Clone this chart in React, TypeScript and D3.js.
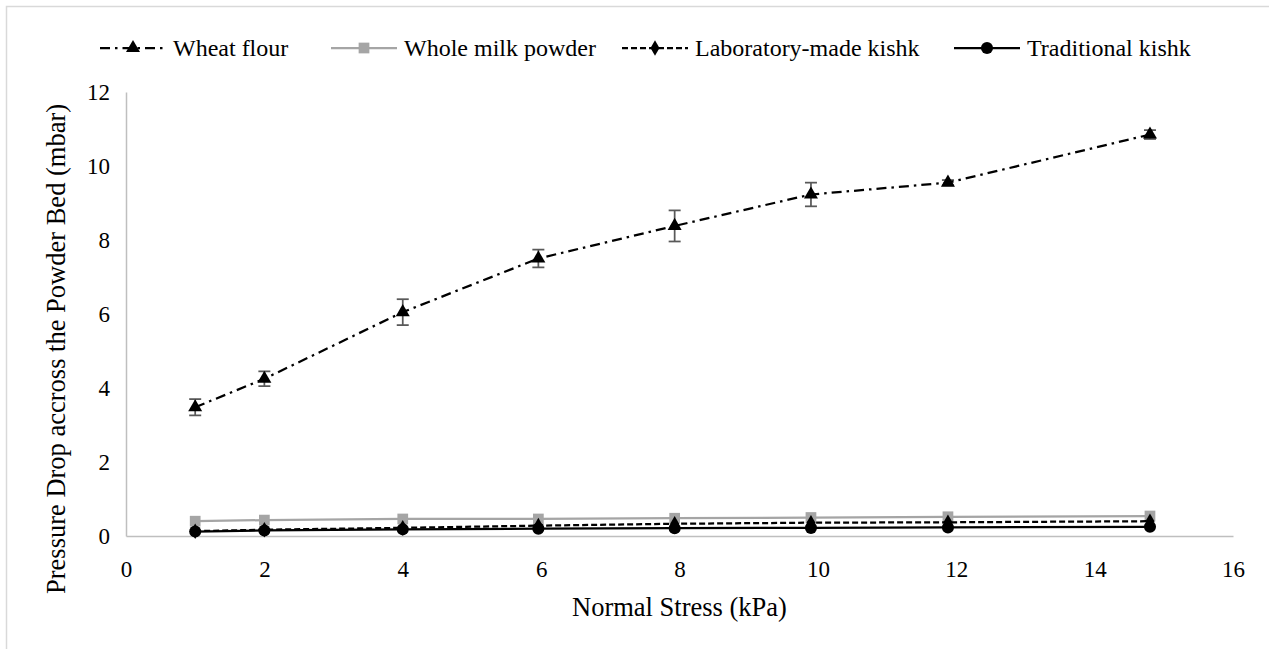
import { useEffect, useRef } from 'react';
import * as d3 from 'd3';

// Normal stress (kPa) at which each measurement was taken
const stress = [1, 2, 4, 5.96, 7.93, 9.9, 11.88, 14.8];

// Pressure drop across the powder bed (mbar)
const wheatFlour = [3.48, 4.25, 6.05, 7.5, 8.38, 9.23, 9.55, 10.85];
const wheatFlourErr = [0.22, 0.2, 0.35, 0.24, 0.42, 0.32, 0.07, 0.12];
const wholeMilkPowder = [0.4, 0.43, 0.46, 0.46, 0.48, 0.5, 0.52, 0.54];
const labKishk = [0.13, 0.17, 0.22, 0.28, 0.33, 0.36, 0.37, 0.4];
const tradKishk = [0.12, 0.15, 0.18, 0.2, 0.21, 0.22, 0.23, 0.25];

const xTicks = [0, 2, 4, 6, 8, 10, 12, 14, 16];
const yTicks = [0, 2, 4, 6, 8, 10, 12];

const seriesNames = ['Wheat flour', 'Whole milk powder', 'Laboratory-made kishk', 'Traditional kishk'];

const WIDTH = 1269;
const HEIGHT = 649;
const FONT = "'Liberation Serif', 'DejaVu Serif', serif";

type Marker = 'triangle' | 'square' | 'diamond' | 'circle';

interface Series {
  name: string;
  values: number[];
  color: string;
  dash: string | null;
  marker: Marker;
}

const App = () => {
  const svgRef = useRef<SVGSVGElement>(null);

  useEffect(() => {
    const svg = d3.select(svgRef.current);
    svg.selectAll('*').remove();

    const margin = { top: 92, right: 36, bottom: 113, left: 126 };
    const x = d3.scaleLinear().domain([0, 16]).range([margin.left, WIDTH - margin.right]);
    const y = d3.scaleLinear().domain([0, 12]).range([HEIGHT - margin.bottom, margin.top]);

    const series: Series[] = [
      { name: seriesNames[0], values: wheatFlour, color: '#000000', dash: '10,5,2.5,5', marker: 'triangle' },
      { name: seriesNames[1], values: wholeMilkPowder, color: '#a5a5a5', dash: null, marker: 'square' },
      { name: seriesNames[2], values: labKishk, color: '#000000', dash: '6,3', marker: 'diamond' },
      { name: seriesNames[3], values: tradKishk, color: '#000000', dash: null, marker: 'circle' },
    ];

    const symbolFor = (m: Marker) => {
      if (m === 'triangle') return d3.symbol(d3.symbolTriangle, 85)();
      if (m === 'square') return d3.symbol(d3.symbolSquare, 115)();
      if (m === 'diamond') return d3.symbol(d3.symbolDiamond, 70)();
      return d3.symbol(d3.symbolCircle, 115)();
    };

    // Outer chart border
    svg.append('rect')
      .attr('x', 6.5)
      .attr('y', 6.5)
      .attr('width', WIDTH + 20)
      .attr('height', HEIGHT + 20)
      .attr('fill', 'none')
      .attr('stroke', '#d9d9d9')
      .attr('stroke-width', 1.5);

    // Axes (light gray lines, no tick marks)
    const xAxis = svg.append('g')
      .attr('transform', `translate(0,${y(0)})`)
      .call(d3.axisBottom(x).tickValues(xTicks).tickSize(0).tickPadding(25));
    xAxis.select('.domain').attr('stroke', '#bfbfbf').attr('stroke-width', 1.5);
    xAxis.selectAll('text').style('font-family', FONT).attr('font-size', 23).attr('fill', '#000');

    const yAxis = svg.append('g')
      .attr('transform', `translate(${x(0)},0)`)
      .call(d3.axisLeft(y).tickValues(yTicks).tickSize(0).tickPadding(16));
    yAxis.select('.domain').attr('stroke', '#bfbfbf').attr('stroke-width', 1.5);
    yAxis.selectAll('text').style('font-family', FONT).attr('font-size', 23).attr('fill', '#000');

    // Axis titles
    svg.append('text')
      .attr('x', (x(0) + x(16)) / 2)
      .attr('y', 616)
      .attr('text-anchor', 'middle')
      .style('font-family', FONT)
      .attr('font-size', 26.5)
      .text('Normal Stress (kPa)');

    svg.append('text')
      .attr('transform', 'translate(65,594) rotate(-90)')
      .attr('text-anchor', 'start')
      .style('font-family', FONT)
      .attr('font-size', 26.5)
      .text('Pressure Drop accross the Powder Bed (mbar)');

    const line = d3.line<number>()
      .x((_, i) => x(stress[i]))
      .y(d => y(d));

    // Error bars for wheat flour
    const errG = svg.append('g');
    wheatFlour.forEach((v, i) => {
      const cx = x(stress[i]);
      const lo = y(v - wheatFlourErr[i]);
      const hi = y(v + wheatFlourErr[i]);
      errG.append('line').attr('x1', cx).attr('x2', cx).attr('y1', lo).attr('y2', hi)
        .attr('stroke', '#595959').attr('stroke-width', 1.75);
      [lo, hi].forEach(yy => {
        errG.append('line').attr('x1', cx - 6).attr('x2', cx + 6).attr('y1', yy).attr('y2', yy)
          .attr('stroke', '#595959').attr('stroke-width', 1.75);
      });
    });

    series.forEach(s => {
      svg.append('path')
        .datum(s.values)
        .attr('d', line)
        .attr('fill', 'none')
        .attr('stroke', s.color)
        .attr('stroke-width', 2.25)
        .attr('stroke-dasharray', s.dash);

      svg.append('g')
        .selectAll('path')
        .data(s.values)
        .enter()
        .append('path')
        .attr('d', symbolFor(s.marker))
        .attr('transform', (d, i) => `translate(${x(stress[i])},${y(d)})`)
        .attr('fill', s.color);
    });

    // Legend
    const legendX = [100, 331, 622, 954];
    const legendY = 48;
    series.forEach((s, i) => {
      const g = svg.append('g').attr('transform', `translate(${legendX[i]},${legendY})`);
      g.append('line')
        .attr('x1', 0).attr('x2', 66).attr('y1', 0).attr('y2', 0)
        .attr('stroke', s.color)
        .attr('stroke-width', 2.25)
        .attr('stroke-dasharray', s.dash);
      g.append('path')
        .attr('d', symbolFor(s.marker))
        .attr('transform', 'translate(33,0)')
        .attr('fill', s.color);
      g.append('text')
        .attr('x', 73)
        .attr('dy', '0.33em')
        .style('font-family', FONT)
        .attr('font-size', 24)
        .text(s.name);
    });
  }, []);

  return (
    <div style={{ position: 'absolute', left: 0, top: 0, background: '#fff' }}>
      <svg ref={svgRef} width={WIDTH} height={HEIGHT} style={{ display: 'block' }}></svg>
    </div>
  );
};

export default App;
